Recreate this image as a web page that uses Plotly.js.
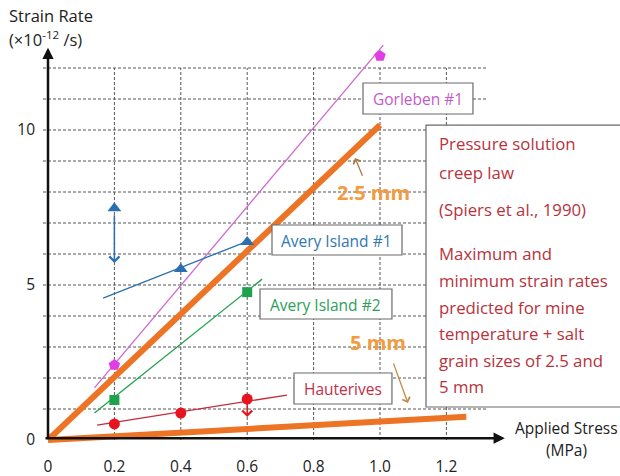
<!DOCTYPE html>
<html>
<head>
<meta charset="utf-8">
<script src="https://cdn.plot.ly/plotly-3.0.1.min.js"></script>
<style>html,body{margin:0;padding:0;background:#fff}#chart{width:620px;height:476px}</style>
</head>
<body>
<div id="chart"></div>
<script>
// ---------- data ----------
const xTickVals = [0, 0.2, 0.4, 0.6, 0.8, 1.0, 1.2];
const xTickText = ["0", "0.2", "0.4", "0.6", "0.8", "1.0", "1.2"];
const yTickVals = [0, 5, 10];
const yTickText = ["0", "5", "10"];

// Gorleben #1
const gorX = [0.2, 1.0];
const gorY = [2.42, 12.39];
const gorFitX = [0.14, 1.01];
const gorFitY = [1.68, 12.74];

// Avery Island #1
const av1X = [0.2, 0.4, 0.6];
const av1Y = [7.48, 5.52, 6.39];
const av1FitX = [0.166, 0.61];
const av1FitY = [4.58, 6.45];
const av1ArrowLow = 5.71;

// Avery Island #2
const av2X = [0.2, 0.6];
const av2Y = [1.29, 4.77];
const av2FitX = [0.14, 0.645];
const av2FitY = [0.87, 5.19];

// Hauterives
const hauX = [0.2, 0.4, 0.6];
const hauY = [0.52, 0.87, 1.32];
const hauFitX = [0.148, 0.72];
const hauFitY = [0.48, 1.45];
const hauArrowLow = 0.74;

// Pressure solution creep law bounds
const law25X = [0, 1.0];
const law25Y = [0, 10.16];
const law5X = [0, 1.26];
const law5Y = [0, 0.75];

const gridY = [1,2,3,4,5,6,7,8,9,10,11,12];
const gridX = [0.2, 0.4, 0.6, 0.8, 1.0, 1.2];

const boxLines = ["Pressure solution", "creep law", "(Spiers et al., 1990)", "Maximum and",
  "minimum strain rates", "predicted for mine", "temperature + salt", "grain sizes of 2.5 and", "5 mm"];

// ---------- styles ----------
const FONT = "'Open Sans', Lato, sans-serif";
const ORANGE = "#ec7424";
const PINK = "#e03ee4", PINKLINE = "#d066d0";
const BLUE = "#2a6fb0";
const GREEN = "#1ea24c";
const RED = "#e5151f", REDLINE = "#c8283c";
const DARKRED = "#b8323c";

const traces = [
  {x: law5X, y: law5Y, mode: "lines", line: {color: ORANGE, width: 6}, hoverinfo: "skip"},
  {x: law25X, y: law25Y, mode: "lines", line: {color: ORANGE, width: 6}, hoverinfo: "skip"},
  {x: gorFitX, y: gorFitY, mode: "lines", line: {color: PINKLINE, width: 1.3}},
  {x: av1FitX, y: av1FitY, mode: "lines", line: {color: BLUE, width: 1.3}},
  {x: av2FitX, y: av2FitY, mode: "lines", line: {color: GREEN, width: 1.3}},
  {x: hauFitX, y: hauFitY, mode: "lines", line: {color: REDLINE, width: 1.3}},
  {x: gorX, y: gorY, mode: "markers", marker: {symbol: "pentagon", size: 12, color: PINK}},
  {x: av1X, y: av1Y, mode: "markers", marker: {symbol: "triangle-up", size: 12, color: BLUE}},
  {x: av2X, y: av2Y, mode: "markers", marker: {symbol: "square", size: 10, color: GREEN}},
  {x: hauX, y: hauY, mode: "markers", marker: {symbol: "circle", size: 11, color: RED}}
];

const shapes = [];
gridY.forEach(v => shapes.push({type: "line", layer: "below", xref: "x", yref: "y",
  x0: -0.015, x1: 1.32, y0: v, y1: v, line: {color: "#555", width: 1, dash: "3px,2px"}}));
gridX.forEach(u => shapes.push({type: "line", layer: "below", xref: "x", yref: "y",
  x0: u, x1: u, y0: 0, y1: 12, line: {color: "#555", width: 1, dash: "3px,2px"}}));

function box(x0, x1, y0, y1) {
  shapes.push({type: "rect", layer: "above", xref: "x", yref: "y", x0, x1, y0, y1,
    fillcolor: "#fff", line: {color: "#6b6b6b", width: 1.2}});
}
box(0.9488, 1.280, 10.516, 11.516);   // Gorleben
box(0.6747, 1.0663, 5.968, 6.935);    // Avery 1
box(0.6386, 1.036, 3.903, 4.871);     // Avery 2
box(0.741, 1.036, 1.161, 2.161);      // Hauterives
box(1.1386, 1.76, 1.065, 10.16);      // text box

const ann = [];
function label(t, x, y, color, size, extra) {
  ann.push(Object.assign({text: t, x, y, xref: "x", yref: "y", showarrow: false,
    font: {family: FONT, size: size, color: color}}, extra || {}));
}
function paperLabel(t, x, y, size, extra) {
  ann.push(Object.assign({text: t, x, y, xref: "paper", yref: "paper", showarrow: false,
    yanchor: "middle", font: {family: FONT, size: size, color: "#222"}}, extra || {}));
}
function arrow(x, y, ax, ay, color, w, head, size) {
  ann.push({text: "", x, y, ax, ay, xref: "x", yref: "y", axref: "x", ayref: "y",
    showarrow: true, arrowcolor: color, arrowwidth: w, arrowhead: head, arrowsize: size || 1});
}

// axes with arrows
arrow(1.376, 0.06, -0.012, 0.06, "#111", 2.5, 2, 0.9);
arrow(0, 12.65, 0, 0, "#111", 2.5, 2, 0.9);

label("Gorleben #1", 1.1145, 11.0, "#c35ac8", 15.5);
label("Avery Island #1", 0.870, 6.42, "#2f78b0", 15.5);
label("Avery Island #2", 0.837, 4.355, "#2ca05a", 15.5);
label("Hauterives", 0.8886, 1.645, "#c0304a", 15.5);

const lineY = [9.58, 8.645, 7.42, 6.03, 5.16, 4.29, 3.45, 2.58, 1.71];
boxLines.forEach((t, i) => label(t, 1.1717, lineY[i], DARKRED, 16.8, {xanchor: "left"}));

label("<b>2.5 mm</b>", 0.979, 8.0, "#f29b40", 20);
label("<b>5 mm</b>", 0.994, 3.13, "#f29b40", 20);
arrow(0.925, 9.10, 0.949, 8.48, "#a87a4a", 1.3, 4, 1.2);
arrow(1.084, 1.19, 1.039, 2.52, "#c08a4a", 1.3, 4, 1.2);

arrow(0.2, av1ArrowLow, 0.2, 7.3, BLUE, 1.5, 4, 1.3);
arrow(0.6, hauArrowLow, 0.6, 1.3, RED, 1.5, 4, 1.3);

// axis titles (paper coords: plot area is 580 x 448 px starting at left 40, top 0)
paperLabel("Strain Rate", -0.0569, 0.9665, 16.5, {xanchor: "left"});
paperLabel("(×10<sup>-12</sup> /s)", -0.0569, 0.913, 16.5, {xanchor: "left"});
paperLabel("Applied Stress", 0.9086, 0.0446, 15.5, {xanchor: "center"});
paperLabel("(MPa)", 0.9086, -0.0045, 15.5, {xanchor: "center"});

const layout = {
  width: 620, height: 476,
  margin: {l: 40, r: 0, t: 0, b: 28},
  paper_bgcolor: "#fff", plot_bgcolor: "#fff",
  showlegend: false,
  font: {family: FONT, size: 15, color: "#222"},
  xaxis: {range: [-0.0241, 1.7229], showgrid: false, zeroline: false, showline: false,
    tickvals: xTickVals, ticktext: xTickText, ticks: "", ticklabelstandoff: 7,
    tickfont: {family: FONT, size: 15.5, color: "#222"}},
  yaxis: {range: [-0.258, 14.194], showgrid: false, zeroline: false, showline: false,
    tickvals: yTickVals, ticktext: yTickText, ticks: "", ticklabelstandoff: 4,
    tickfont: {family: FONT, size: 15.5, color: "#222"}},
  shapes: shapes,
  annotations: ann
};

Plotly.newPlot("chart", traces, layout, {staticPlot: true, displayModeBar: false});
</script>
</body>
</html>
